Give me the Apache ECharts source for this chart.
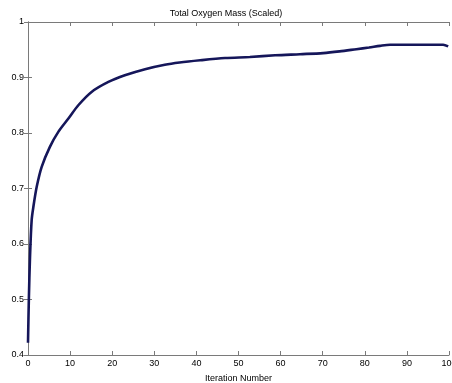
<!DOCTYPE html>
<html>
<head>
<meta charset="utf-8">
<script src="https://cdn.jsdelivr.net/npm/echarts@6/dist/echarts.min.js"></script>
<style>
  html, body { margin: 0; padding: 0; background: #fff; }
  #main { width: 452px; height: 383px; }
</style>
</head>
<body>
<div id="main"></div>
<script type="text/javascript">
	// 数据
	var iterations = [0, 0.2, 0.48, 0.87, 1.3, 2.07, 3.25, 5.2, 7.2, 9.6, 11.95, 15.1, 19.1, 23, 27.8, 32.5, 36, 40.9, 46.8, 52.7, 58.7, 64.6, 70.1, 74, 78, 81, 83.6, 86, 92, 98.6, 99.8];
	var oxygenMass = [0.422, 0.5, 0.577, 0.643, 0.668, 0.703, 0.739, 0.775, 0.802, 0.826, 0.850, 0.874, 0.892, 0.904, 0.915, 0.923, 0.927, 0.931, 0.935, 0.937, 0.940, 0.942, 0.944, 0.947, 0.951, 0.954, 0.957, 0.959, 0.959, 0.959, 0.956];
	var xTicks = [0, 10, 20, 30, 40, 50, 60, 70, 80, 90, 100];
	var yTicks = [0.4, 0.5, 0.6, 0.7, 0.8, 0.9, 1];

	var points = [];
	for (var i = 0; i < iterations.length; i++) {
		points.push([iterations[i], oxygenMass[i]]);
	}

	var font = 'Liberation Sans, Arial, sans-serif';
	var axisGray = '#7a7a7a';

	function xAxisCfg(pos, show) {
		return {
			type: 'value', position: pos, min: 0, max: 100, interval: 10,
			axisLine: { show: true, lineStyle: { color: axisGray, width: 1 } },
			axisTick: { show: true, inside: true, length: 4, lineStyle: { color: axisGray } },
			axisLabel: { show: show, color: '#000', fontSize: 9, fontFamily: font, margin: 4, hideOverlap: false,
				formatter: function (v) { return xTicks.indexOf(v) >= 0 ? String(v) : ''; } },
			splitLine: { show: false }
		};
	}
	function yAxisCfg(pos, show) {
		return {
			type: 'value', position: pos, min: 0.4, max: 1, interval: 0.1,
			axisLine: { show: true, lineStyle: { color: axisGray, width: 1 } },
			axisTick: { show: true, inside: true, length: 4, lineStyle: { color: axisGray } },
			axisLabel: { show: show, color: '#000', fontSize: 9, fontFamily: font, margin: 4,
				formatter: function (v) { var r = Math.round(v * 10) / 10; return yTicks.indexOf(r) >= 0 ? String(r) : ''; } },
			splitLine: { show: false }
		};
	}

	var myChart = echarts.init(document.getElementById('main'));
	var xa0 = xAxisCfg('bottom', true);
	xa0.name = 'Iteration Number';
	xa0.nameLocation = 'middle';
	xa0.nameGap = 19;
	xa0.nameTextStyle = { color: '#000', fontSize: 9, fontFamily: font };

	var option = {
		animation: false,
		backgroundColor: '#fff',
		title: {
			text: 'Total Oxygen Mass (Scaled)',
			left: 'center', top: 4,
			textStyle: { color: '#000', fontSize: 9, fontWeight: 'normal', fontFamily: font }
		},
		grid: { left: 28, right: 3, top: 22, bottom: 28, containLabel: false, outerBoundsMode: 'none' },
		xAxis: [xa0, xAxisCfg('top', false)],
		yAxis: [yAxisCfg('left', true), yAxisCfg('right', false)],
		series: [{
			type: 'line',
			data: points,
			smooth: 0.3,
			showSymbol: false,
			lineStyle: { color: '#15165a', width: 2.6 }
		}]
	};
	myChart.setOption(option);
</script>
</body>
</html>
